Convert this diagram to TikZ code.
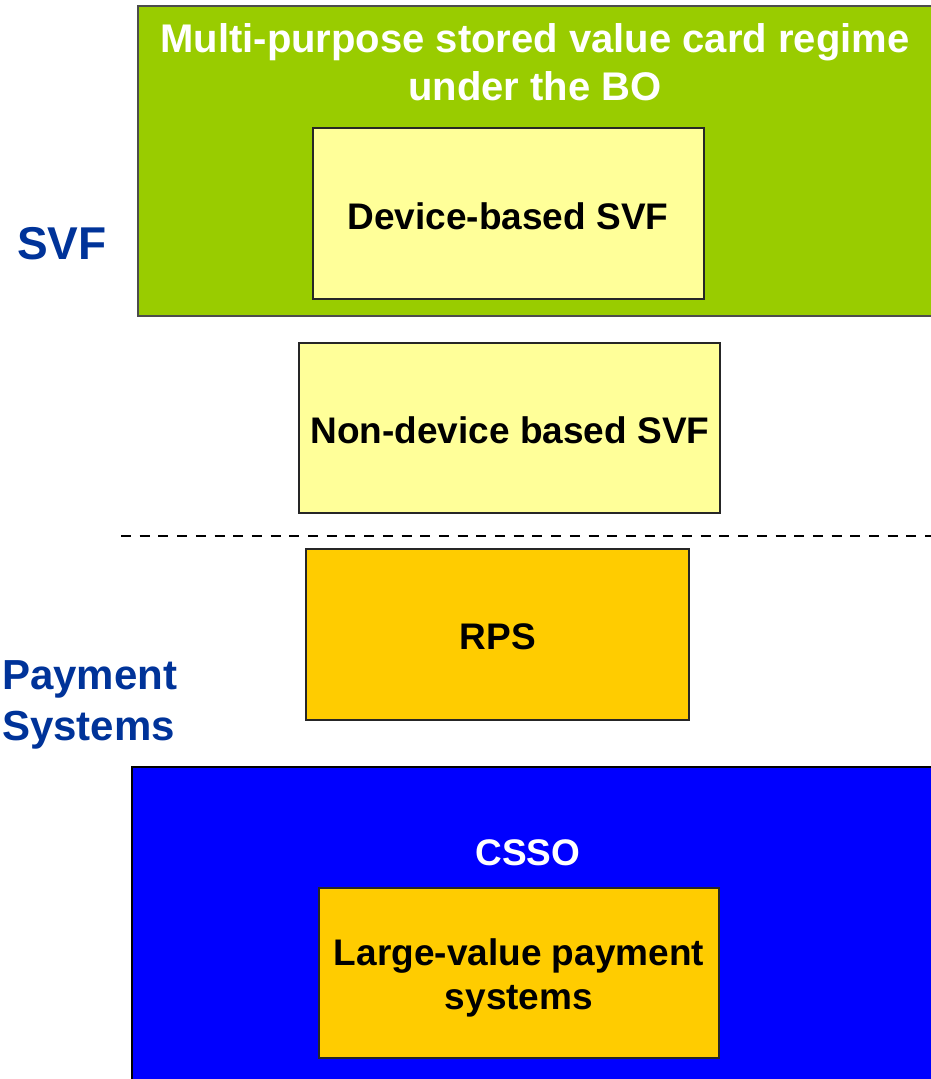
\documentclass[tikz,border=0pt]{standalone}
\usepackage{fontspec}
\setmainfont{Liberation Sans}
\definecolor{grn}{HTML}{99CC00}
\definecolor{lyel}{HTML}{FFFF99}
\definecolor{gold}{HTML}{FFCC00}
\definecolor{blu}{HTML}{0000FF}
\definecolor{dblue}{HTML}{003399}
\begin{document}
\begin{tikzpicture}[x=1pt,y=-1pt,
  box/.style={draw=black!85,line width=1.2pt},
  inner/.style={font=\fontsize{37}{44}\selectfont\bfseries,align=center},
  side/.style={font=\fontsize{42}{51}\selectfont\bfseries,text=dblue,align=left}]
\useasboundingbox (0,0) rectangle (930,1079);
\fill[grn] (138,6) rectangle (935,316);
\draw[black!70,line width=1.2pt] (935,6) -- (138,6) -- (138,316) -- (935,316);
\draw[box,fill=lyel] (313,128) rectangle (704,299);
\draw[box,fill=lyel] (299,343) rectangle (720,513);
\draw[black,line width=2pt,dash pattern=on 10pt off 8.7pt] (121,536) -- (935,536);
\draw[box,fill=gold] (306,549) rectangle (689,720);
\fill[blu] (132,767) rectangle (935,1085);
\draw[black,line width=1.2pt] (935,767) -- (132,767) -- (132,1085);
\draw[box,fill=gold] (319,888) rectangle (719,1058);
\node[inner,text=white,font=\fontsize{40}{48}\selectfont\bfseries] (title) at (535,62) {Multi-purpose stored value card regime\\under the BO};
\node[inner] (dev) at (508,216) {Device-based SVF};
\node[inner] (nondev) at (510,430) {Non-device based SVF};
\node[inner] (rps) at (498,637) {RPS};
\node[inner,text=white] (csso) at (528,853) {CSSO};
\node[inner] (lvps) at (519,978) {Large-value payment\\systems};
\node[side,font=\fontsize{46}{51}\selectfont\bfseries] (svf) at (62,244) {SVF};
\node[side,anchor=west,inner sep=0pt] (ps) at (2,705) {Payment\\Systems};
\end{tikzpicture}
\end{document}
